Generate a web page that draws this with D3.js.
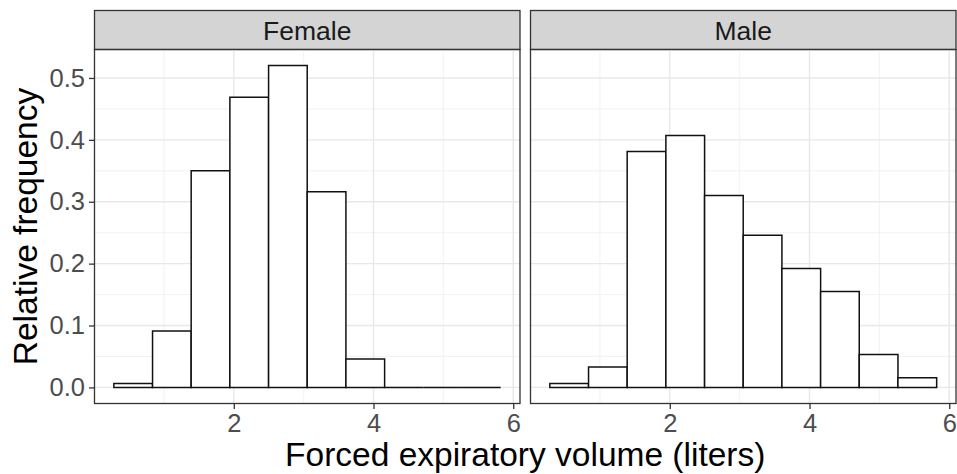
<!DOCTYPE html>
<html>
<head>
<meta charset="utf-8">
<script src="https://cdn.jsdelivr.net/npm/d3@7"></script>
<style>
    body { margin: 0; background: #fff; }
    svg { display: block; font-family: "Liberation Sans", Arial, sans-serif; }
</style>
</head>
<body>
<div id="chart"></div>
<script>
// Histogram of FEV, faceted by sex
const panels = ["Female", "Male"];
const binEdges = [0.283, 0.837, 1.390, 1.944, 2.498, 3.051, 3.605, 4.159, 4.712, 5.266, 5.820];
const femaleFreq = [0.0065, 0.091, 0.350, 0.469, 0.520, 0.316, 0.046, 0, 0, 0];
const maleFreq = [0.0065, 0.033, 0.381, 0.407, 0.310, 0.246, 0.192, 0.155, 0.053, 0.0155];
const xTicks = [2, 4, 6];
const xMinor = [1, 3, 5];
const yTicks = [0, 0.1, 0.2, 0.3, 0.4, 0.5];
const yMinor = [0.05, 0.15, 0.25, 0.35, 0.45];

const freqByPanel = { Female: femaleFreq, Male: maleFreq };

const width = 957, height = 474;
const margin = { top: 10.5, left: 94.5 };
const stripH = 39;
const panelW = 425.5, panelH = 354, gap = 10.5;

const svg = d3.select("#chart").append("svg")
    .attr("width", width)
    .attr("height", height);

// ggplot style 5% expansion on both axes
const xLo = binEdges[0], xHi = binEdges[binEdges.length - 1];
const xPad = (xHi - xLo) * 0.05;
const x = d3.scaleLinear()
    .domain([xLo - xPad, xHi + xPad])
    .range([0, panelW]);

const yMax = d3.max(femaleFreq.concat(maleFreq));
const y = d3.scaleLinear()
    .domain([-yMax * 0.05, yMax * 1.05])
    .range([panelH, 0]);

panels.forEach((name, i) => {
    const px = margin.left + i * (panelW + gap);
    const py = margin.top + stripH;

    // strip
    svg.append("rect")
        .attr("x", px).attr("y", margin.top)
        .attr("width", panelW).attr("height", stripH)
        .attr("fill", "#D4D4D4")
        .attr("stroke", "#333").attr("stroke-width", 1.3);
    svg.append("text")
        .attr("x", px + panelW / 2).attr("y", margin.top + stripH / 2)
        .attr("dy", "0.36em")
        .attr("text-anchor", "middle")
        .attr("fill", "#1A1A1A")
        .style("font-size", "26.5px")
        .text(name);

    const g = svg.append("g").attr("transform", `translate(${px},${py})`);

    // grid
    g.selectAll(".xminor").data(xMinor).join("line")
        .attr("x1", d => x(d)).attr("x2", d => x(d))
        .attr("y1", 0).attr("y2", panelH)
        .attr("stroke", "#EFEFEF").attr("stroke-width", 0.8);
    g.selectAll(".yminor").data(yMinor).join("line")
        .attr("y1", d => y(d)).attr("y2", d => y(d))
        .attr("x1", 0).attr("x2", panelW)
        .attr("stroke", "#EFEFEF").attr("stroke-width", 0.8);
    g.selectAll(".xmajor").data(xTicks).join("line")
        .attr("x1", d => x(d)).attr("x2", d => x(d))
        .attr("y1", 0).attr("y2", panelH)
        .attr("stroke", "#E8E8E8").attr("stroke-width", 1.4);
    g.selectAll(".ymajor").data(yTicks).join("line")
        .attr("y1", d => y(d)).attr("y2", d => y(d))
        .attr("x1", 0).attr("x2", panelW)
        .attr("stroke", "#E8E8E8").attr("stroke-width", 1.4);

    // bars (paths so empty bins still show as a flat line)
    const bars = freqByPanel[name].map((v, k) => ({ x0: binEdges[k], x1: binEdges[k + 1], v: v }));
    g.selectAll(".bar").data(bars).join("path")
        .attr("d", d => `M${x(d.x0)},${y(0)}V${y(d.v)}H${x(d.x1)}V${y(0)}Z`)
        .attr("fill", "#fff")
        .attr("stroke", "#111")
        .attr("stroke-width", 1.5);

    // panel border
    g.append("rect")
        .attr("width", panelW).attr("height", panelH)
        .attr("fill", "none")
        .attr("stroke", "#333").attr("stroke-width", 1.3);

    // x axis
    const xAxis = g.append("g")
        .attr("transform", `translate(0,${panelH})`)
        .call(d3.axisBottom(x).tickValues(xTicks).tickSize(5.5).tickPadding(5).tickFormat(d3.format("d")));
    xAxis.select(".domain").remove();
    xAxis.selectAll("line").attr("stroke", "#333").attr("stroke-width", 1.3);
    xAxis.selectAll("text").attr("fill", "#4D4D4D").style("font-size", "25.5px");

    // y axis only on the first panel
    if (i === 0) {
        const yAxis = g.append("g")
            .call(d3.axisLeft(y).tickValues(yTicks).tickSize(5.5).tickPadding(4).tickFormat(d3.format(".1f")));
        yAxis.select(".domain").remove();
        yAxis.selectAll("line").attr("stroke", "#333").attr("stroke-width", 1.3);
        yAxis.selectAll("text").attr("fill", "#4D4D4D").style("font-size", "25.5px");
    }
});

// axis titles
svg.append("text")
    .attr("x", margin.left + panelW + gap / 2)
    .attr("y", 466)
    .attr("text-anchor", "middle")
    .attr("fill", "#000")
    .style("font-size", "33.5px")
    .text("Forced expiratory volume (liters)");

svg.append("text")
    .attr("transform", `translate(37,${margin.top + stripH + panelH / 2}) rotate(-90)`)
    .attr("text-anchor", "middle")
    .attr("fill", "#000")
    .style("font-size", "33.5px")
    .text("Relative frequency");
</script>
</body>
</html>
